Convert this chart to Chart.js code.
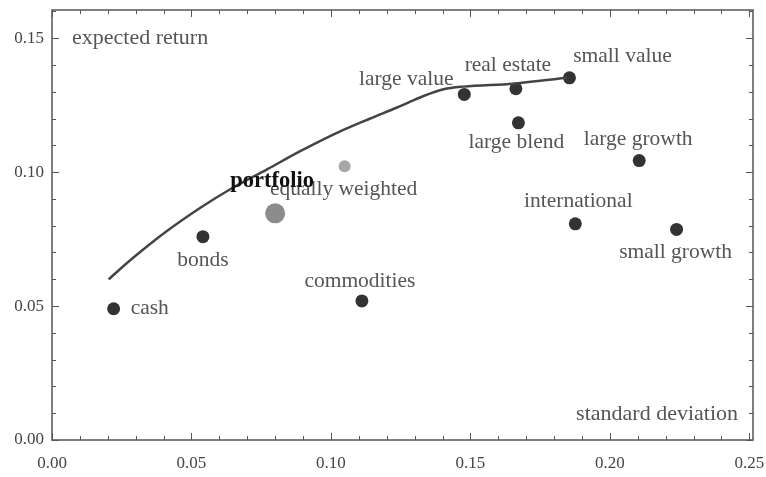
<!DOCTYPE html>
<html>
<head>
<meta charset="utf-8">
<script src="https://cdn.jsdelivr.net/npm/chart.js@4/dist/chart.umd.min.js"></script>
<style>
  html, body { margin: 0; padding: 0; background: #fff; }
  #wrap { width: 766px; height: 477px; }
</style>
</head>
<body>
<div id="wrap"><canvas id="chart"></canvas></div>
<script>
// asset classes: standard deviation vs expected return
const assetNames  = ['cash', 'bonds', 'commodities', 'large value', 'real estate', 'small value',
                     'large blend', 'large growth', 'international', 'small growth'];
const assetRisk   = [0.0221, 0.0541, 0.1111, 0.1478, 0.1663, 0.1855, 0.1672, 0.2105, 0.1876, 0.2239];
const assetReturn = [0.0490, 0.0759, 0.0519, 0.1290, 0.1311, 0.1352, 0.1184, 0.1043, 0.0807, 0.0786];

// efficient frontier
const frontierRisk   = [0.0203, 0.0292, 0.0412, 0.0532, 0.0639, 0.0771, 0.0890, 0.1033, 0.1141,
                        0.1237, 0.1332, 0.1404, 0.1475, 0.1654, 0.1846];
const frontierReturn = [0.0600, 0.0681, 0.0780, 0.0867, 0.0936, 0.1010, 0.1078, 0.1152, 0.1200,
                        0.1241, 0.1284, 0.1309, 0.1319, 0.1330, 0.1352];

const portfolioRisk = [0.0800];
const portfolioReturn = [0.0846];
const equalRisk = [0.1049];
const equalReturn = [0.1022];

const xLabelTicks = [0, 0.05, 0.10, 0.15, 0.20, 0.25];
const yLabelTicks = [0, 0.05, 0.10, 0.15];
const minorStep = 0.01;

// where each label sits relative to its dot (px)
const labelOffsets = [[17, 0, 'left'], [0, 24], [-2, -20], [-58, -15], [-8, -23], [53, -21],
                      [-2, 20], [-1, -21], [3, -22], [-1, 23]];

const toPoints = (xs, ys) => xs.map((v, i) => ({x: v, y: ys[i]}));
const isMajor = v => Math.abs(v / 0.05 - Math.round(v / 0.05)) < 1e-6;
const fmt = v => v.toFixed(2);

function buildTicks(max) {
    const out = [];
    for (let i = 0; i * minorStep <= max + 1e-9; i++) out.push({value: +(i * minorStep).toFixed(2)});
    return out;
}

const serif = "'Liberation Serif', 'Times New Roman', serif";

const framePlugin = {
    id: 'frame',
    afterDatasetsDraw(chart) {
        const {ctx, chartArea: a, scales: {x, y}} = chart;
        ctx.save();
        ctx.strokeStyle = '#555';
        ctx.lineWidth = 1.5;
        ctx.strokeRect(a.left, a.top, a.right - a.left, a.bottom - a.top);
        ctx.lineWidth = 1;
        ctx.beginPath();
        x.ticks.forEach(t => {
            const px = Math.round(x.getPixelForValue(t.value)) + 0.5;
            const len = isMajor(t.value) ? 7 : 4;
            ctx.moveTo(px, a.bottom); ctx.lineTo(px, a.bottom - len);
            ctx.moveTo(px, a.top); ctx.lineTo(px, a.top + len);
        });
        y.ticks.forEach(t => {
            const py = Math.round(y.getPixelForValue(t.value)) + 0.5;
            const len = isMajor(t.value) ? 7 : 4;
            ctx.moveTo(a.left, py); ctx.lineTo(a.left + len, py);
            ctx.moveTo(a.right, py); ctx.lineTo(a.right - len, py);
        });
        ctx.stroke();

        // point labels
        ctx.textBaseline = 'middle';
        ctx.fillStyle = '#555';
        ctx.font = '21.5px ' + serif;
        assetNames.forEach((name, i) => {
            const o = labelOffsets[i];
            ctx.textAlign = o[2] || 'center';
            ctx.fillText(name, x.getPixelForValue(assetRisk[i]) + o[0], y.getPixelForValue(assetReturn[i]) + o[1]);
        });
        ctx.textAlign = 'center';
        ctx.fillText('equally weighted', x.getPixelForValue(equalRisk[0]) - 1, y.getPixelForValue(equalReturn[0]) + 23);
        ctx.fillStyle = '#111';
        ctx.font = 'bold 22.5px ' + serif;
        ctx.fillText('portfolio', x.getPixelForValue(portfolioRisk[0]) - 3, y.getPixelForValue(portfolioReturn[0]) - 32);

        // axis captions inside the frame
        ctx.fillStyle = '#555';
        ctx.font = '22px ' + serif;
        ctx.textAlign = 'left';
        ctx.fillText('expected return', a.left + 20, y.getPixelForValue(0.15));
        ctx.textAlign = 'right';
        ctx.fillText('standard deviation', a.right - 15, a.bottom - 26);
        ctx.restore();
    }
};

new Chart(document.getElementById('chart'), {
    type: 'scatter',
    data: {
        datasets: [
            {
                label: 'frontier',
                data: toPoints(frontierRisk, frontierReturn),
                showLine: true,
                borderColor: '#444',
                borderWidth: 2.5,
                pointRadius: 0,
                cubicInterpolationMode: 'monotone'
            },
            {
                label: 'assets',
                data: toPoints(assetRisk, assetReturn),
                backgroundColor: '#333',
                borderWidth: 0,
                pointRadius: 6.5
            },
            {
                label: 'equally weighted',
                data: toPoints(equalRisk, equalReturn),
                backgroundColor: '#a6a6a6',
                borderWidth: 0,
                pointRadius: 6
            },
            {
                label: 'portfolio',
                data: toPoints(portfolioRisk, portfolioReturn),
                backgroundColor: '#8c8c8c',
                borderWidth: 0,
                pointRadius: 10
            }
        ]
    },
    options: {
        responsive: true,
        maintainAspectRatio: false,
        animation: false,
        layout: {padding: {top: 10, right: 13, left: 0, bottom: 0}},
        plugins: {legend: {display: false}, tooltip: {enabled: false}},
        scales: {
            x: {
                type: 'linear',
                min: 0,
                max: 0.2513,
                grid: {display: false, drawTicks: false},
                border: {display: false},
                afterBuildTicks: s => { s.ticks = buildTicks(0.25); },
                afterFit: s => { s.height = 37; s.paddingLeft = 0; s.paddingRight = 0; },
                ticks: {
                    autoSkip: false,
                    maxRotation: 0,
                    padding: 13,
                    color: '#444',
                    font: {family: serif, size: 17},
                    callback: v => xLabelTicks.some(t => Math.abs(t - v) < 1e-6) ? fmt(v) : ''
                }
            },
            y: {
                type: 'linear',
                min: 0,
                max: 0.1605,
                grid: {display: false, drawTicks: false},
                border: {display: false},
                afterBuildTicks: s => { s.ticks = buildTicks(0.16); },
                afterFit: s => { s.width = 52; s.paddingTop = 0; s.paddingBottom = 0; },
                ticks: {
                    autoSkip: false,
                    padding: 8,
                    color: '#444',
                    font: {family: serif, size: 17},
                    callback: v => yLabelTicks.some(t => Math.abs(t - v) < 1e-6) ? fmt(v) : ''
                }
            }
        }
    },
    plugins: [framePlugin]
});
</script>
</body>
</html>
